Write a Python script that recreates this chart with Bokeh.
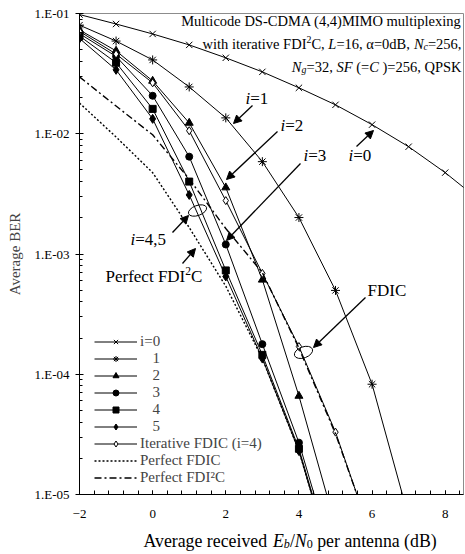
from bokeh.plotting import figure
from bokeh.layouts import column
from bokeh.models import (Range1d, FixedTicker, CustomJSTickFormatter, Label, Arrow,
                          NormalHead, Legend, LegendItem)
from bokeh.embed import file_html
from bokeh.resources import INLINE

# ---------------- data ----------------
snr = [-2, -1, 0, 1, 2, 3, 4, 5, 6, 7, 8, 9]
ber_i0 = [0.098, 0.0818, 0.0676, 0.0548, 0.0428, 0.0327, 0.0241, 0.0174, 0.0119, 0.0078, 0.00475, 0.0027]
ber_i1 = [0.080, 0.059, 0.0411, 0.0245, 0.01355, 0.00586, 0.00201, 0.000498, 8.26e-5, 6.5e-6]
ber_i2 = [0.073, 0.0489, 0.0275, 0.0123, 0.00357, 0.00061, 6.6e-5, 5.5e-6]
ber_i3 = [0.068, 0.044, 0.0207, 0.00645, 0.0012, 0.000178, 2.7e-5, 2.5e-6]
ber_i4 = [0.065, 0.039, 0.0161, 0.0040, 0.00073, 0.000145, 2.4e-5, 2.2e-6]
ber_i5 = [0.062, 0.034, 0.0133, 0.0031, 0.00065, 0.000135, 2.3e-5, 2.1e-6]
ber_fdic = [0.071, 0.046, 0.0265, 0.0106, 0.00278, 0.00069, 0.00017, 3.3e-5, 4.3e-6]
ber_perfect_fdic = [0.018, 0.0094, 0.00475, 0.00166, 0.00054, 0.000135, 2.3e-5, 2.2e-6]
ber_perfect_fdi2c = [0.0297, 0.017, 0.0098, 0.0042, 0.00163, 0.0007, 0.000165, 3.2e-5, 4.4e-6]

x_major = [-2, 0, 2, 4, 6, 8]
x_minor = [round(-2 + 0.4 * k, 1) for k in range(27)]
y_major = [1e-5, 1e-4, 1e-3, 1e-2, 1e-1]
y_minor = [m * 10.0 ** e for e in range(-5, -1) for m in range(2, 10)]

labels = ["i=0", "\u2002\u2005\u200a1", "\u2002\u2005\u200a2", "\u2002\u2005\u200a3",
          "\u2002\u2005\u200a4", "\u2002\u2005\u200a5", "Iterative FDIC (i=4)",
          "Perfect FDIC", "Perfect FDI\u00b2C"]

FONT = "Liberation Serif"
FL, FT, FR, FB = 79, 13, 463, 494      # frame edges in page pixels
W_TOT, H_MAIN, H_LAB = 465, 522, 32

# ---------------- figure ----------------
p = figure(width=W_TOT, height=H_MAIN, y_axis_type="log", output_backend="svg",
           toolbar_location=None, x_range=Range1d(-2, 8.5), y_range=Range1d(1e-5, 1e-1),
           min_border_left=FL, min_border_right=W_TOT - FR, min_border_top=FT,
           min_border_bottom=H_MAIN - FB)
p.grid.visible = False
p.outline_line_color = "#8c8c8c"
p.background_fill_color = "white"

p.xaxis.ticker = FixedTicker(ticks=x_major, minor_ticks=x_minor)
p.yaxis.ticker = FixedTicker(ticks=y_major, minor_ticks=y_minor)
p.yaxis.formatter = CustomJSTickFormatter(code="""
const e = Math.round(Math.log10(tick));
const s = String(Math.abs(e)).padStart(2, '0');
return '1.E' + (e < 0 ? '-' : '+') + s;
""")
for ax in (p.xaxis, p.yaxis):
    ax.axis_line_color = "black"
    ax.major_tick_line_color = "black"
    ax.minor_tick_line_color = "black"
    ax.major_label_text_font = FONT
    ax.major_label_text_font_size = "13px"
    ax.major_label_text_color = "black"
p.xaxis.major_tick_in = 4
p.xaxis.major_tick_out = 0
p.xaxis.minor_tick_in = 4
p.xaxis.minor_tick_out = 0
p.xaxis.major_label_standoff = 15
p.yaxis.major_tick_in = 4
p.yaxis.major_tick_out = 4
p.yaxis.minor_tick_in = 3
p.yaxis.minor_tick_out = 0
p.yaxis.major_label_standoff = 6
p.yaxis.axis_label = "Average BER"
p.yaxis.axis_label_text_font = FONT
p.yaxis.axis_label_text_font_size = "15px"
p.yaxis.axis_label_text_font_style = "normal"
p.yaxis.axis_label_standoff = 8

# ---------------- series ----------------
series = [
    (ber_i0, dict(marker="x", size=9, fill_color="black"), "solid"),
    (ber_i1, dict(marker="asterisk", size=9, fill_color="black"), "solid"),
    (ber_i2, dict(marker="triangle", size=8, fill_color="black"), "solid"),
    (ber_i3, dict(marker="circle", size=7, fill_color="black"), "solid"),
    (ber_i4, dict(marker="square", size=7, fill_color="black"), "solid"),
    (ber_i5, dict(marker="diamond", size=9, fill_color="black"), "solid"),
    (ber_fdic, dict(marker="diamond", size=8, fill_color="white"), "solid"),
    (ber_perfect_fdic, None, "2 2"),
    (ber_perfect_fdi2c, None, "7 3 2 3"),
]
items = []
for (ys, mk, dash), lab in zip(series, labels):
    xs = snr[:len(ys)]
    rs = []
    lw = 1.0 if mk else 1.4
    rs.append(p.line(xs, ys, line_color="black", line_width=lw, line_dash=dash))
    if mk:
        rs.append(p.scatter(xs, ys, line_color="black", line_width=1, **mk))
    items.append(LegendItem(label=lab, renderers=rs))

legend = Legend(items=items, location=(15, 8), padding=0, margin=0, spacing=0,
                glyph_width=43, glyph_height=15, label_height=15, label_standoff=3,
                border_line_color=None, background_fill_alpha=0,
                label_text_font=FONT, label_text_font_size="15px")
p.add_layout(legend)

# ---------------- rich text helper ----------------
W = {' ': 250, ',': 250, '.': 250, '-': 333, '(': 333, ')': 333, '=': 564, '/': 278,
     'A': 722, 'B': 667, 'C': 667, 'D': 722, 'E': 611, 'F': 556, 'I': 333, 'K': 722,
     'L': 611, 'M': 889, 'N': 722, 'O': 722, 'P': 556, 'Q': 722, 'R': 667, 'S': 556,
     'a': 444, 'b': 500, 'c': 444, 'd': 500, 'e': 444, 'f': 333, 'g': 500, 'h': 500,
     'i': 278, 'l': 278, 'm': 778, 'n': 500, 'o': 500, 'p': 500, 'r': 333, 't': 278,
     'u': 500, 'v': 500, 'w': 722, 'x': 500, '\u03b1': 550}
WI = {'N': 667, 'L': 556, 'S': 500, 'F': 611, 'C': 667, 'E': 611, 'b': 500, 'c': 444,
      'g': 500, 'i': 278}


def tw(s, size, italic):
    tab = WI if italic else {}
    return sum(tab.get(ch, W.get(ch, 500)) for ch in s) * size / 1000.0


def rich(fig, pieces, sx0, sy0, size, align="left"):
    ws = []
    for t, st in pieces:
        fs = size * 0.68 if st in ("sub", "isub", "sup") else size
        ws.append(tw(t, fs, st in ("i", "isub")))
    total = sum(ws)
    x = sx0 - total if align == "right" else (sx0 - total / 2 if align == "center" else sx0)
    for (t, st), w in zip(pieces, ws):
        fs = size * 0.68 if st in ("sub", "isub", "sup") else size
        dy = -0.22 * size if st in ("sub", "isub") else (0.3 * size if st == "sup" else 0)
        body = t.lstrip(" ")
        lead = tw(t[:len(t) - len(body)], fs, False)
        body = body.rstrip(" ")
        if body:
            fig.add_layout(Label(x=x + lead, y=sy0 + dy, x_units="screen", y_units="screen",
                                 text=body, text_font=FONT, text_font_size=f"{fs:.1f}px",
                                 text_font_style="italic" if st in ("i", "isub") else "normal",
                                 text_baseline="middle", text_align="left", text_color="black"))
        x += w


def rich_pg(pieces, px, py, size, align="left"):
    rich(p, pieces, px - FL, FB - py, size, align)


# title block
rich_pg([("Multicode DS-CDMA (4,4)MIMO multiplexing", "n")], 461, 20, 14.5, "right")
rich_pg([("with iterative FDI", "n"), ("2", "sup"), ("C, ", "n"), ("L", "i"),
         ("=16, \u03b1=0dB, ", "n"), ("N", "i"), ("c", "isub"), ("=256,", "n")], 461, 43, 14.5, "right")
rich_pg([("N", "i"), ("g", "isub"), ("=32, ", "n"), ("SF", "i"), (" (=", "n"), ("C", "i"),
         (" )=256, QPSK", "n")], 461, 66, 14.5, "right")

# curve annotations
rich_pg([("i", "i"), ("=1", "n")], 245, 98, 17)
rich_pg([("i", "i"), ("=2", "n")], 280, 125, 17)
rich_pg([("i", "i"), ("=3", "n")], 303, 155, 17)
rich_pg([("i", "i"), ("=0", "n")], 348, 155, 17)
rich_pg([("i", "i"), ("=4,5", "n")], 130, 239, 17)
rich_pg([("Perfect FDI", "n"), ("2", "sup"), ("C", "n")], 105, 276, 17)
rich_pg([("FDIC", "n")], 367, 290, 17)

arrows = [((252, 105), (233, 123)), ((277, 131), (226, 179)), ((300, 163), (226, 240)),
          ((356, 146), (373, 130)), ((172, 232), (188, 215)), ((182, 263), (195, 248)),
          ((365, 297), (313, 347))]
for (x0, y0), (x1, y1) in arrows:
    p.add_layout(Arrow(x_start=x0 - FL, y_start=FB - y0, x_end=x1 - FL, y_end=FB - y1,
                       start_units="screen", end_units="screen", line_width=1.3,
                       end=NormalHead(size=8, fill_color="black", line_color="black")))

# ellipses marking curve groups
p.ellipse(x=[1.227, 4.125], y=[0.0023, 0.000152], width=[19, 19], height=[10, 11],
          width_units="screen", height_units="screen", angle=[0.35, 0.35],
          fill_color=None, line_color="black", line_width=1)

# ---------------- x-axis title strip (frame aligned with main frame) ----------------
q = figure(width=W_TOT, height=H_LAB, output_backend="svg", toolbar_location=None,
           x_range=Range1d(0, 1), y_range=Range1d(0, 1), min_border=0)
q.axis.visible = False
q.grid.visible = False
q.outline_line_color = None
rich(q, [("Average received ", "n"), ("E", "i"), ("b", "isub"), ("/", "n"), ("N", "i"),
         ("0", "sub"), (" per antenna (dB)", "n")], 143 - FL, H_MAIN + H_LAB - 540, 17.8)

open("out.html", "w").write(file_html(column(p, q, spacing=0), INLINE))
